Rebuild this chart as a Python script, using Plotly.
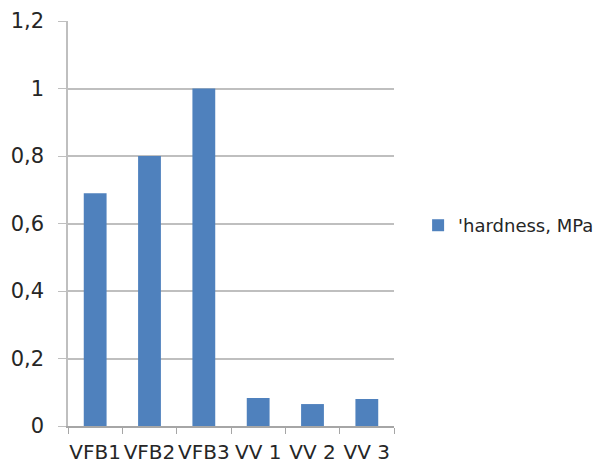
import plotly.graph_objects as go

categories = ["VFB1", "VFB2", "VFB3", "VV 1", "VV 2", "VV 3"]
hardness = [0.69, 0.80, 1.00, 0.083, 0.065, 0.08]
series_name = "'hardness, MPa"

fig = go.Figure()
fig.add_trace(go.Bar(
    x=categories, y=hardness, name=series_name,
    marker=dict(color="#4f81bd", line=dict(width=0)),
    showlegend=True,
))

fig.update_layout(
    width=599, height=465,
    margin=dict(l=68, r=205, t=21, b=39),
    paper_bgcolor="white", plot_bgcolor="white",
    separators=", ",
    bargap=0.58,
    font=dict(family="DejaVu Sans, sans-serif", color="#262626"),
    showlegend=True,
    legend=dict(xref="container", yref="container", x=0.698, y=0.515,
                xanchor="left", yanchor="middle",
                font=dict(family="DejaVu Sans", size=18, color="#262626"),
                itemwidth=30),
    xaxis=dict(
        type="category", tickson="boundaries", ticks="outside", ticklen=6,
        tickcolor="#a6a6a6", showline=True, linecolor="#a6a6a6", linewidth=1.5,
        showgrid=False, tickfont=dict(size=20), fixedrange=True,
        tickangle=0, automargin=False, ticklabelstandoff=7,
    ),
    yaxis=dict(
        range=[0, 1.2], dtick=0.2, ticks="outside", ticklen=8,
        tickcolor="#bfbfbf", showline=True, linecolor="#bfbfbf", linewidth=1.5,
        showgrid=True, gridcolor="#bfbfbf", gridwidth=1.5, zeroline=False,
        tickfont=dict(size=21), ticklabelstandoff=10, automargin=False,
    ),
)

fig.write_html("out.html")
